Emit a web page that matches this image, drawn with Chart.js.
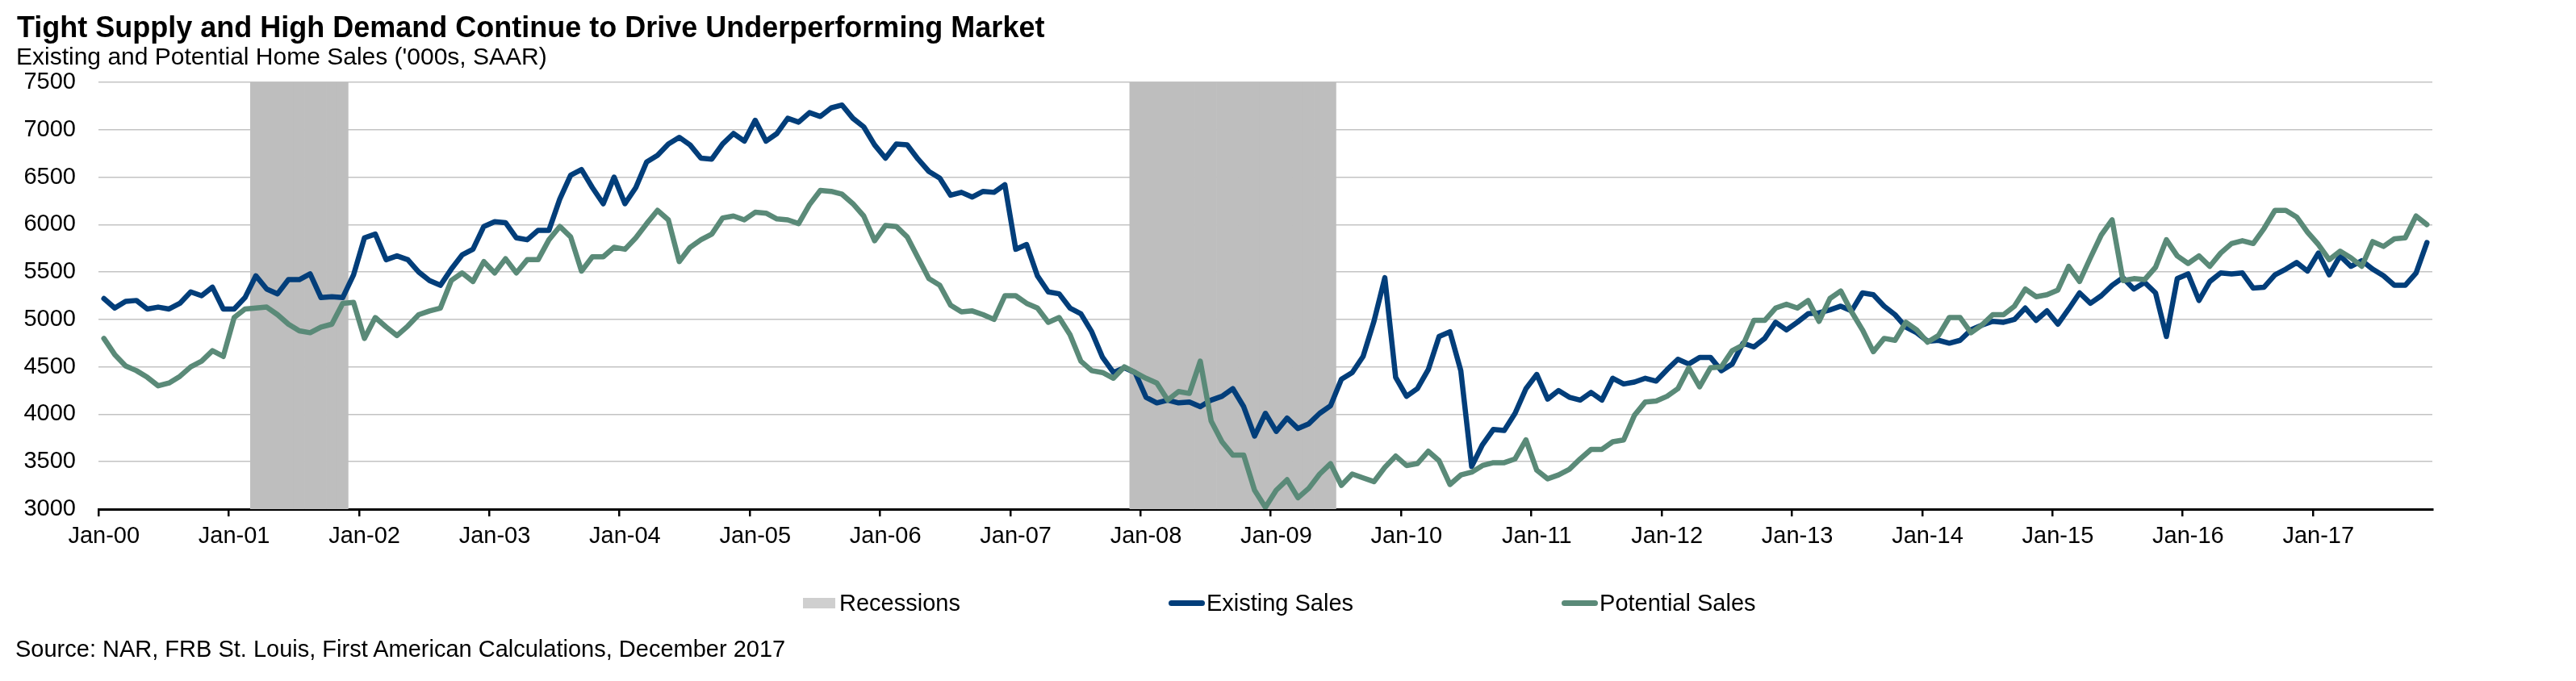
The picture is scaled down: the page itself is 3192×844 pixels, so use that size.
<!DOCTYPE html>
<html>
<head>
<meta charset="utf-8">
<script src="https://cdn.jsdelivr.net/npm/chart.js@4/dist/chart.umd.min.js"></script>
<style>
  html, body { margin: 0; padding: 0; background: #fff; }
  body { width: 3192px; height: 844px; position: relative; overflow: hidden; font-family: 'Liberation Sans', Arial, sans-serif; color: #000; }
  #chart { position: absolute; left: 0; top: 0; }
  .txt { position: absolute; white-space: nowrap; line-height: 1; }
  #title { left: 21px; top: 16px; font-size: 36px; font-weight: bold; }
  #subtitle { left: 20px; top: 55px; font-size: 30px; }
  #source { left: 19px; top: 790px; font-size: 29px; }
  #legend { position: absolute; left: 995px; top: 733px; display: flex; column-gap: 258px; font-size: 29px; line-height: 29px; }
  .item { display: flex; align-items: center; white-space: nowrap; }
  .swatch { margin-right: 4px; }
</style>
</head>
<body>
<canvas id="chart" width="3192" height="844"></canvas>
<div id="title" class="txt">Tight Supply and High Demand Continue to Drive Underperforming Market</div>
<div id="subtitle" class="txt">Existing and Potential Home Sales ('000s, SAAR)</div>
<div id="legend"></div>
<div id="source" class="txt">Source: NAR, FRB St. Louis, First American Calculations, December 2017</div>
<script>
// Monthly categories, Jan-2000 .. Nov-2017
const monthNames = ['Jan', 'Feb', 'Mar', 'Apr', 'May', 'Jun', 'Jul', 'Aug', 'Sep', 'Oct', 'Nov', 'Dec'];
const startYear = 2000;
const monthCount = 215;
const monthLabels = [];
for (let i = 0; i < monthCount; i++) {
  const yy = String((startYear + Math.floor(i / 12)) % 100).padStart(2, '0');
  monthLabels.push(`${monthNames[i % 12]}-${yy}`);
}
const tickMonth = 'Jan';

// y axis range
const yAxisMin = 3000;
const yAxisMax = 7500;
const yAxisStep = 500;

// Recession periods (first and last month shaded)
const recessionPeriods = [
  ['Mar-01', 'Nov-01'],
  ['Dec-07', 'Jun-09'],
];

// Existing Sales ('000s, SAAR)
const existingSales = [
  5220, 5120, 5190, 5200, 5110, 5130, 5110, 5170, 5290, 5250, 5340, 5110,
  5110, 5230, 5460, 5320, 5270, 5420, 5420, 5480, 5230, 5240, 5230, 5470,
  5860, 5900, 5630, 5670, 5630, 5500, 5410, 5360, 5530, 5680, 5740, 5980,
  6030, 6020, 5860, 5840, 5940, 5940, 6270, 6520, 6580, 6390, 6220, 6500,
  6220, 6390, 6660, 6730, 6850, 6920, 6840, 6700, 6690, 6850, 6960, 6880,
  7100, 6880, 6960, 7120, 7080, 7180, 7140, 7230, 7260, 7120, 7030, 6840,
  6700, 6850, 6840, 6690, 6560, 6490, 6310, 6340, 6290, 6350, 6340, 6420,
  5740, 5790, 5460, 5290, 5270, 5120, 5060, 4870, 4600, 4440, 4490, 4440,
  4180, 4120, 4150, 4120, 4130, 4080, 4150, 4190, 4270, 4080, 3770, 4010,
  3820, 3960, 3850, 3900, 4010, 4090, 4370, 4440, 4610, 4980, 5440, 4390,
  4190, 4270, 4470, 4820, 4870, 4460, 3450, 3680, 3840, 3830, 4010, 4270,
  4420, 4160, 4250, 4180, 4150, 4230, 4150, 4380, 4320, 4340, 4380, 4350,
  4470, 4580, 4530, 4600, 4600, 4460, 4530, 4750, 4710, 4800, 4970, 4890,
  4970, 5060, 5070, 5100, 5140, 5090, 5280, 5260, 5140, 5050, 4920, 4860,
  4770, 4780, 4750, 4780, 4890, 4940, 4980, 4970, 5000, 5120, 4990, 5090,
  4950, 5110, 5280, 5170, 5250, 5360, 5440, 5320, 5390, 5280, 4820, 5430,
  5480, 5200, 5400, 5490, 5480, 5490, 5330, 5340, 5470, 5530, 5600, 5510,
  5700, 5470, 5670, 5560, 5620, 5530, 5460, 5360, 5360, 5490, 5810,
];

// Potential Sales ('000s, SAAR)
const potentialSales = [
  4800, 4630, 4510, 4460, 4390, 4300, 4330, 4400, 4500, 4560, 4670, 4610,
  5020, 5110, 5120, 5130, 5050, 4950, 4880, 4860, 4920, 4950, 5170, 5180,
  4800, 5020, 4920, 4830, 4930, 5050, 5090, 5120, 5410, 5490, 5400, 5610,
  5490, 5640, 5490, 5630, 5630, 5840, 5980, 5870, 5510, 5660, 5660, 5760,
  5740, 5860, 6010, 6150, 6050, 5610, 5760, 5840, 5900, 6070, 6090, 6050,
  6130, 6120, 6060, 6050, 6010, 6210, 6360, 6350, 6320, 6220, 6090, 5830,
  5990, 5980, 5870, 5650, 5430, 5360, 5150, 5080, 5090, 5050, 5000, 5250,
  5250, 5170, 5120, 4970, 5020, 4840, 4560, 4460, 4440, 4380, 4500, 4440,
  4380, 4330, 4150, 4240, 4220, 4560, 3930, 3710, 3570, 3570, 3200, 3020,
  3200, 3310, 3120, 3220, 3370, 3480, 3250, 3370, 3330, 3290, 3440, 3560,
  3460, 3480, 3610, 3510, 3260, 3360, 3390, 3460, 3490, 3490, 3530, 3730,
  3410, 3320, 3360, 3420, 3530, 3630, 3630, 3710, 3730, 3990, 4130, 4140,
  4190, 4270, 4490, 4290, 4490, 4500, 4670, 4730, 4990, 4990, 5120, 5160,
  5120, 5200, 4980, 5220, 5300, 5080, 4890, 4660, 4800, 4780, 4970, 4890,
  4760, 4830, 5020, 5020, 4860, 4940, 5050, 5050, 5140, 5320, 5240, 5260,
  5310, 5560, 5400, 5650, 5890, 6050, 5410, 5430, 5420, 5550, 5840, 5670,
  5590, 5670, 5560, 5700, 5800, 5830, 5800, 5960, 6150, 6150, 6080, 5920,
  5790, 5630, 5720, 5650, 5560, 5820, 5770, 5850, 5860, 6090, 6000,
];

const FONT = "'Liberation Sans', Arial, sans-serif";
const EXISTING_COLOR = '#023E7A';
const POTENTIAL_COLOR = '#5A8A78';
const RECESSION_COLOR = '#BEBEBE';
const RECESSION_KEY_COLOR = '#CFCFCF';

// Recession shading as full-height columns
const recessionValues = monthLabels.map((label, i) => {
  const inside = recessionPeriods.some(([from, to]) =>
    i >= monthLabels.indexOf(from) && i <= monthLabels.indexOf(to));
  return inside ? yAxisMax : null;
});

const ctx = document.getElementById('chart').getContext('2d');
const chart = new Chart(ctx, {
  type: 'bar',
  data: {
    labels: monthLabels,
    datasets: [
      {
        type: 'bar',
        label: 'Recessions',
        data: recessionValues,
        backgroundColor: RECESSION_COLOR,
        borderWidth: 0,
        barPercentage: 1,
        categoryPercentage: 1,
        order: 3,
      },
      {
        type: 'line',
        label: 'Existing Sales',
        data: existingSales,
        borderColor: EXISTING_COLOR,
        borderWidth: 6.5,
        pointRadius: 0,
        tension: 0,
        borderJoinStyle: 'round',
        borderCapStyle: 'round',
        order: 2,
      },
      {
        type: 'line',
        label: 'Potential Sales',
        data: potentialSales,
        borderColor: POTENTIAL_COLOR,
        borderWidth: 6.5,
        pointRadius: 0,
        tension: 0,
        borderJoinStyle: 'round',
        borderCapStyle: 'round',
        order: 1,
      },
    ],
  },
  options: {
    responsive: false,
    animation: false,
    layout: { padding: { top: 102, right: 178, left: 0, bottom: 0 } },
    plugins: {
      legend: { display: false },
      tooltip: { enabled: false },
    },
    scales: {
      x: {
        offset: true,
        z: 1,
        grid: {
          offset: true,
          drawOnChartArea: false,
          tickLength: 9,
          lineWidth: 2.5,
          color: (c) => (c.tick && monthLabels[c.index].startsWith(tickMonth) ? '#000' : 'transparent'),
        },
        border: { display: true, color: '#000', width: 3 },
        ticks: {
          autoSkip: false,
          maxRotation: 0,
          minRotation: 0,
          padding: 8,
          color: '#000',
          font: { family: FONT, size: 29 },
          callback: (value, index) => (monthLabels[index].startsWith(tickMonth) ? monthLabels[index] : ''),
        },
        afterFit: (axis) => { axis.height = 213; },
      },
      y: {
        min: yAxisMin,
        max: yAxisMax,
        ticks: {
          stepSize: yAxisStep,
          padding: 28,
          color: '#000',
          font: { family: FONT, size: 29 },
          callback: (v) => String(v),
        },
        grid: {
          drawTicks: false,
          lineWidth: 1.5,
          color: (c) => (c.tick && c.tick.value === yAxisMin ? 'transparent' : '#C3C3C3'),
        },
        border: { display: false },
        afterFit: (axis) => { axis.width = 122; },
      },
    },
  },
});

// Legend (Recessions, Existing Sales, Potential Sales)
const legendEl = document.getElementById('legend');
chart.data.datasets.forEach((ds) => {
  const item = document.createElement('div');
  item.className = 'item';
  const sw = document.createElement('span');
  sw.className = 'swatch';
  if (ds.type === 'bar') {
    sw.style.cssText = `display:inline-block;width:40px;height:13px;background:${RECESSION_KEY_COLOR};margin-right:5px;`;
  } else {
    sw.style.cssText = `display:inline-block;width:45px;height:7px;border-radius:4px;background:${ds.borderColor};margin-right:2px;`;
  }
  const label = document.createElement('span');
  label.textContent = ds.label;
  item.appendChild(sw);
  item.appendChild(label);
  legendEl.appendChild(item);
});
</script>
</body>
</html>
